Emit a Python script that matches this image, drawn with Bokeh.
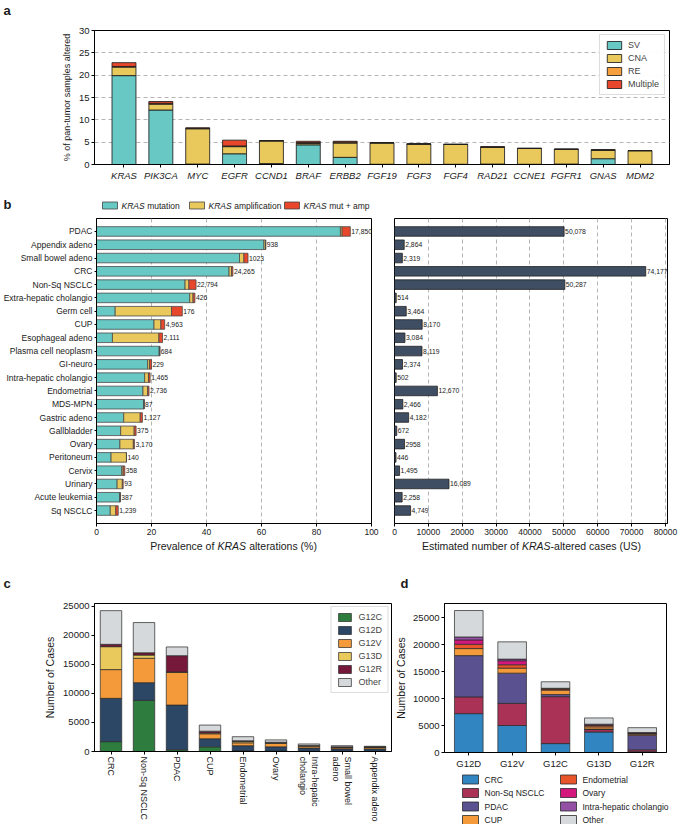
import numpy as np
from bokeh.plotting import figure
from bokeh.models import (Range1d, FactorRange, Label, LabelSet, ColumnDataSource, FixedTicker)
from bokeh.layouts import column, row
from bokeh.embed import file_html
from bokeh.resources import INLINE
from bokeh.core.properties import value

FONT = "Liberation Sans"
INK = "#1a1a1a"

# ---------------- panel a data ----------------
genes = ["KRAS", "PIK3CA", "MYC", "EGFR", "CCND1", "BRAF", "ERBB2", "FGF19", "FGF3",
         "FGF4", "RAD21", "CCNE1", "FGFR1", "GNAS", "MDM2"]
a_sv = [19.9, 12.2, 0.1, 2.4, 0.2, 4.4, 1.6, 0.05, 0.05, 0.05, 0.1, 0.05, 0.1, 1.3, 0.05]
a_cna = [1.9, 1.3, 7.9, 1.6, 5.1, 0.3, 3.2, 4.8, 4.55, 4.45, 3.8, 3.55, 3.3, 1.9, 3.05]
a_re = [0.15, 0.2, 0.1, 0.15, 0.0, 0.2, 0.2, 0.0, 0.0, 0.0, 0.0, 0.0, 0.0, 0.05, 0.0]
a_multi = [0.85, 0.4, 0.1, 1.3, 0.05, 0.3, 0.2, 0.0, 0.0, 0.0, 0.05, 0.0, 0.05, 0.05, 0.0]
a_keys = ["SV", "CNA", "RE", "Multiple"]

# ---------------- panel b data ----------------
b_cats = ["PDAC", "Appendix adeno", "Small bowel adeno", "CRC", "Non-Sq NSCLC",
          "Extra-hepatic cholangio", "Germ cell", "CUP", "Esophageal adeno",
          "Plasma cell neoplasm", "GI-neuro", "Intra-hepatic cholangio", "Endometrial",
          "MDS-MPN", "Gastric adeno", "Gallbladder", "Ovary", "Peritoneum", "Cervix",
          "Urinary", "Acute leukemia", "Sq NSCLC"]
b_mut = [88.7, 60.9, 52.0, 48.2, 32.2, 33.9, 6.8, 20.9, 5.8, 22.8, 18.6, 17.5, 16.9,
         17.2, 9.9, 8.8, 8.5, 5.3, 9.2, 7.5, 8.5, 5.0]
b_amp = [0.6, 0.6, 1.6, 0.9, 1.4, 1.2, 20.5, 2.5, 16.9, 0.2, 0.7, 1.4, 1.7, 0.1, 6.0,
         4.9, 4.9, 5.6, 0.5, 1.9, 0.1, 2.0]
b_both = [3.0, 0.0, 1.5, 0.5, 2.6, 0.7, 3.9, 1.4, 1.3, 0.0, 0.7, 0.6, 0.5, 0.0, 0.8,
          0.7, 0.4, 0.0, 0.6, 0.3, 0.0, 0.9]
b_n_labels = ["17,850", "938", "1023", "24,265", "22,794", "426", "176", "4,963",
              "2,111", "684", "229", "1,465", "2,736", "87", "1,127", "375", "3,170",
              "140", "358", "93", "387", "1,239"]
b_cases = [50078, 2864, 2319, 74177, 50287, 514, 3464, 8170, 3084, 8119, 2374, 502,
           12670, 2466, 4182, 672, 2958, 446, 1495, 16089, 2258, 4749]
b_case_labels = ["50,078", "2,864", "2,319", "74,177", "50,287", "514", "3,464", "8,170",
                 "3,084", "8,119", "2,374", "502", "12,670", "2,466", "4,182", "672",
                 "2958", "446", "1,495", "16,089", "2,258", "4,749"]
b_legend = ["mutation", "amplification", "mut + amp"]

# ---------------- panel c data ----------------
c_cats = ["CRC", "Non-Sq NSCLC", "PDAC", "CUP", "Endometrial", "Ovary",
          "Intra-hepatic\ncholangio", "Small bowel\nadeno", "Appendix adeno"]
c_g12c = [1700, 8800, 300, 800, 150, 100, 50, 50, 30]
c_g12d = [7450, 3050, 7700, 1400, 850, 700, 550, 400, 420]
c_g12v = [4950, 4200, 5600, 850, 500, 600, 300, 200, 250]
c_g13d = [3950, 550, 100, 150, 250, 100, 100, 100, 70]
c_g12r = [400, 400, 2800, 300, 100, 100, 50, 50, 30]
c_other = [5800, 5200, 1500, 1050, 700, 400, 250, 200, 100]
c_labels = ["G12C", "G12D", "G12V", "G13D", "G12R", "Other"]

# ---------------- panel d data ----------------
d_cats = ["G12D", "G12V", "G12C", "G13D", "G12R"]
d_crc = [7200, 5000, 1650, 3800, 150]
d_nsclc = [3100, 4100, 8700, 450, 350]
d_pdac = [7650, 5600, 400, 100, 2700]
d_cup = [1300, 930, 800, 400, 200]
d_endo = [800, 620, 200, 250, 150]
d_ovary = [800, 750, 100, 150, 50]
d_ihc = [550, 300, 50, 100, 100]
d_other = [4900, 3200, 1200, 1150, 900]
d_labels = ["CRC", "Non-Sq NSCLC", "PDAC", "CUP", "Endometrial", "Ovary",
            "Intra-hepatic cholangio", "Other"]

# ---------------- colours ----------------
TEAL, YEL, ORA, RED = "#68c8c4", "#e9c85c", "#f5a03c", "#e8472b"
a_colors = [TEAL, YEL, ORA, RED]
b_colors = [TEAL, YEL, RED]
c_colors = ["#2e7d3e", "#2c4766", "#f49a3b", "#e9c85c", "#76183a", "#d6d9db"]
d_colors = ["#3186c2", "#a93256", "#5a5190", "#f49a3b", "#e8552b", "#d4177c",
            "#9350a4", "#d6d9db"]

W = 681
COMMON = dict(output_backend="svg", toolbar_location=None, frame_align=False)


def style(p, tick_size):
    p.outline_line_color = "black"
    p.outline_line_width = 1
    p.background_fill_color = "white"
    p.border_fill_color = "white"
    for ax in p.axis:
        ax.axis_line_color = "black"
        ax.major_tick_line_color = "black"
        ax.major_tick_out = 3
        ax.major_tick_in = 0
        ax.minor_tick_line_color = None
        ax.major_label_text_font = FONT
        ax.major_label_text_font_size = f"{tick_size}px"
        ax.major_label_text_color = INK
        ax.axis_label_text_font = FONT
        ax.axis_label_text_font_style = "normal"
        ax.axis_label_text_color = INK
        ax.major_label_standoff = 2
        ax.axis_label_standoff = 4


def strip_fig(x0, x1, y0, y1):
    s = figure(x_range=Range1d(x0, x1), y_range=Range1d(y1, y0), width=x1 - x0,
               height=y1 - y0, min_border=0, min_border_left=0, min_border_right=0,
               min_border_top=0, min_border_bottom=0, x_axis_type=None,
               y_axis_type=None, **COMMON)
    s.grid.visible = False
    s.outline_line_color = None
    s.background_fill_color = "white"
    s.border_fill_color = "white"
    return s


def lab(p, text, x, y, size, style_="normal", align="left", baseline="middle"):
    p.add_layout(Label(x=x, y=y, text=text, text_font=FONT, text_font_size=f"{size}px",
                       text_font_style=style_, text_align=align,
                       text_baseline=baseline, text_color=INK))


def split_label(p, pre, ital, post, cx, y, size, w_pre, w_post, post_space=True):
    sp = 0.3 * size
    w_it = 2.72 * size
    wp, wq = w_pre * size, w_post * size
    total = wp + sp + w_it + (sp if post_space else 0) + wq
    x0 = cx - total / 2
    lab(p, pre, x0 + wp, y, size, align="right")
    lab(p, ital, x0 + wp + sp, y, size, style_="italic")
    lab(p, post, x0 + wp + sp + w_it + (sp if post_space else 0), y, size)


# ================= strip with "a" =================
strip_a = strip_fig(0, W, 0, 22)
lab(strip_a, "a", 3, 10, 13, style_="bold")

# ================= panel a =================
pa = figure(x_range=FactorRange(factors=genes, range_padding=0.3,
                                range_padding_units="absolute"),
            y_range=Range1d(0, 30), width=W, height=173,
            min_border_left=94, min_border_right=12,
            min_border_top=8, min_border_bottom=31, **COMMON)
src_a = ColumnDataSource(dict(gene=genes, SV=a_sv, CNA=a_cna, RE=a_re, Multiple=a_multi))
pa.vbar_stack(a_keys, x="gene", width=0.65, source=src_a, fill_color=a_colors,
              line_color="#1f1f1f", line_width=1, line_alpha=0.85, legend_label=a_keys)
style(pa, 9.5)
pa.yaxis.ticker = FixedTicker(ticks=[0, 5, 10, 15, 20, 25, 30])
pa.xgrid.visible = False
pa.ygrid.grid_line_dash = "4 3"
pa.ygrid.grid_line_color = "#b5b5b5"
pa.xaxis.major_label_text_font_style = "italic"
pa.yaxis.axis_label = "% of pan-tumor samples altered"
pa.yaxis.axis_label_text_font_size = "9px"
pa.legend.location = "top_right"
pa.legend.label_text_font = FONT
pa.legend.label_text_font_size = "9px"
pa.legend.glyph_width = 18
pa.legend.glyph_height = 10
pa.legend.label_height = 10
pa.legend.spacing = 3
pa.legend.padding = 5
pa.legend.margin = 4
pa.legend.label_standoff = 5
pa.legend.border_line_color = "#bbbbbb"

# ================= panel b legend strip =================
strip_b = strip_fig(0, W, 195, 212)
leg_x = [102, 189, 284]
strip_b.rect(x=[x + 7.5 for x in leg_x], y=[205] * 3, width=15, height=7,
             fill_color=b_colors, line_color="#444444", line_width=0.8)
for x, t in zip(leg_x, b_legend):
    lab(strip_b, "KRAS", x + 19, 205, 8.5, style_="italic")
    lab(strip_b, t, x + 19 + 3.02 * 8.5, 205, 8.5)
lab(strip_b, "b", 3, 204, 13, style_="bold")

# ================= panel b left =================
rev = b_cats[::-1]
yr = FactorRange(factors=rev, range_padding=0.475, range_padding_units="absolute")
b_tot = list(np.add(np.add(b_mut, b_amp), b_both))
src_b = ColumnDataSource(dict(cat=b_cats, mut=b_mut, amp=b_amp, both=b_both, tot=b_tot,
                              nlab=b_n_labels, cases=b_cases, clab=b_case_labels))
pbl = figure(y_range=yr, x_range=Range1d(0, 100), width=380, height=326,
             min_border_left=94, min_border_right=9, min_border_top=6,
             min_border_bottom=15, **COMMON)
pbl.hbar_stack(["mut", "amp", "both"], y="cat", height=0.72, source=src_b,
               fill_color=b_colors, line_color="#4a4a4a", line_width=0.8)
pbl.add_layout(LabelSet(x="tot", y="cat", text="nlab", x_offset=1, source=src_b,
                        text_font=value(FONT), text_font_size="6.8px",
                        text_baseline="middle", text_color=INK))
style(pbl, 8.5)
pbl.yaxis.major_tick_out = 2
pbl.yaxis.major_label_standoff = 2
pbl.xaxis.ticker = FixedTicker(ticks=[0, 20, 40, 60, 80, 100])
pbl.ygrid.visible = False
pbl.xgrid.grid_line_dash = "4 3"
pbl.xgrid.grid_line_color = "#b5b5b5"

# ================= panel b right =================
pbr = figure(y_range=yr, x_range=Range1d(0, 80600), width=301, height=326,
             min_border_left=14, min_border_right=14, min_border_top=6,
             min_border_bottom=15, **COMMON)
pbr.hbar(y="cat", right="cases", height=0.72, source=src_b, fill_color="#3f4e62",
         line_color="#222222", line_width=0.8)
pbr.add_layout(LabelSet(x="cases", y="cat", text="clab", x_offset=1, source=src_b,
                        text_font=value(FONT), text_font_size="6.8px",
                        text_baseline="middle", text_color=INK))
style(pbr, 8.5)
pbr.yaxis.visible = False
pbr.xaxis.ticker = FixedTicker(ticks=list(range(0, 80001, 10000)))
pbr.ygrid.visible = False
pbr.xgrid.grid_line_dash = "4 3"
pbr.xgrid.grid_line_color = "#b5b5b5"

# ================= strip: b axis titles, c / d letters =================
strip_m = strip_fig(0, W, 538, 597)
split_label(strip_m, "Prevalence of", "KRAS", "alterations (%)", 233, 545, 10.5,
            6.11, 6.44)
split_label(strip_m, "Estimated number of", "KRAS", "-altered cases (US)", 531, 545,
            10.5, 9.226, 8.613, post_space=False)
lab(strip_m, "c", 3, 583, 13, style_="bold")
lab(strip_m, "d", 400, 583, 13, style_="bold")

# ================= panel c =================
src_c = ColumnDataSource(dict(cat=c_cats, g12c=c_g12c, g12d=c_g12d, g12v=c_g12v,
                              g13d=c_g13d, g12r=c_g12r, other=c_other))
pc = figure(x_range=FactorRange(factors=c_cats, range_padding=0),
            y_range=Range1d(0, 25480), width=392, height=227,
            min_border_left=94, min_border_right=1,
            min_border_top=6, min_border_bottom=72, **COMMON)
pc.vbar_stack(["g12c", "g12d", "g12v", "g13d", "g12r", "other"], x="cat", width=0.65,
              source=src_c, fill_color=c_colors, line_color="#2a2a2a", line_width=0.9,
              line_alpha=0.8, legend_label=c_labels)
style(pc, 9.5)
pc.grid.visible = False
pc.yaxis.ticker = FixedTicker(ticks=[0, 5000, 10000, 15000, 20000, 25000])
pc.yaxis.axis_label = "Number of Cases"
pc.yaxis.axis_label_text_font_size = "10.5px"
pc.xaxis.major_label_orientation = "vertical"
pc.xaxis.major_label_text_font_size = "9px"
pc.legend.location = "top_right"
pc.legend.label_text_font = FONT
pc.legend.label_text_font_size = "9px"
pc.legend.glyph_width = 16
pc.legend.glyph_height = 10
pc.legend.label_height = 10
pc.legend.spacing = 3
pc.legend.padding = 5
pc.legend.margin = 3
pc.legend.label_standoff = 6
pc.legend.border_line_color = "#bbbbbb"

# ================= panel d =================
src_d = ColumnDataSource(dict(cat=d_cats, crc=d_crc, nsclc=d_nsclc, pdac=d_pdac,
                              cup=d_cup, endo=d_endo, ovary=d_ovary, ihc=d_ihc,
                              other=d_other))
pdd = figure(x_range=FactorRange(factors=d_cats, range_padding=0.06,
                                 range_padding_units="absolute"),
             y_range=Range1d(0, 27600), width=289, height=175,
             min_border_left=50, min_border_right=15,
             min_border_top=6, min_border_bottom=20, **COMMON)
pdd.vbar_stack(["crc", "nsclc", "pdac", "cup", "endo", "ovary", "ihc", "other"],
               x="cat", width=0.66, source=src_d, fill_color=d_colors,
               line_color="#2a2a2a", line_width=0.9, line_alpha=0.8)
style(pdd, 9.5)
pdd.grid.visible = False
pdd.yaxis.ticker = FixedTicker(ticks=[0, 5000, 10000, 15000, 20000, 25000])
pdd.yaxis.axis_label = "Number of Cases"
pdd.yaxis.axis_label_text_font_size = "10.5px"
pdd.yaxis.axis_label_standoff = 3

# legend for panel d (two columns below the plot)
leg_d = strip_fig(392, W, 772, 824)
col_x = [462, 560]
row_y = [779, 792.5, 806, 819.5]
lx = [col_x[i // 4] for i in range(8)]
ly = [row_y[i % 4] for i in range(8)]
leg_d.rect(x=[x + 8 for x in lx], y=ly, width=16, height=9, fill_color=d_colors,
           line_color="#2a2a2a", line_width=0.8)
for x, y, t in zip(lx, ly, d_labels):
    lab(leg_d, t, x + 22, y, 8.5)

layout = column(strip_a, pa, strip_b, row(pbl, pbr), strip_m,
                row(pc, column(pdd, leg_d)))
open("out.html", "w").write(file_html(layout, INLINE))
